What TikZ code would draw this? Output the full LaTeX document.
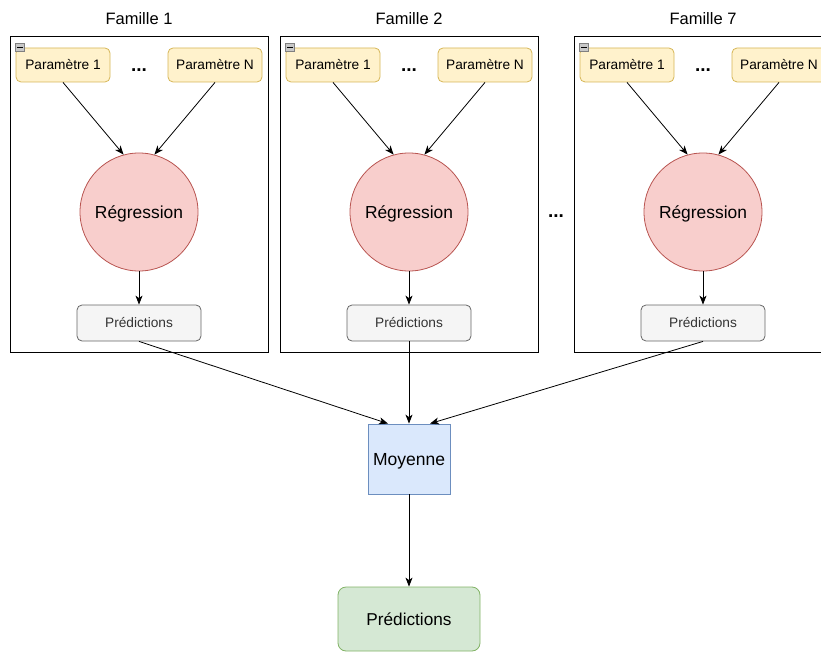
\documentclass[tikz,border=0pt]{standalone}
\usepackage{fontspec}
\setmainfont{Liberation Sans}
\usetikzlibrary{arrows.meta}
\definecolor{paramfill}{HTML}{FFF2CC}
\definecolor{paramline}{HTML}{D6B656}
\definecolor{regfill}{HTML}{F8CECC}
\definecolor{regline}{HTML}{B85450}
\definecolor{predfill}{HTML}{F5F5F5}
\definecolor{predline}{HTML}{666666}
\definecolor{predtext}{HTML}{333333}
\definecolor{moyfill}{HTML}{DAE8FC}
\definecolor{moyline}{HTML}{6C8EBF}
\definecolor{finfill}{HTML}{D5E8D4}
\definecolor{finline}{HTML}{82B366}
\definecolor{iconfill}{HTML}{C8C8C8}
\definecolor{iconline}{HTML}{808080}

\begin{document}
\begin{tikzpicture}[x=1pt, y=-1pt, ->, >={Stealth[length=9pt, width=7pt, inset=2.5pt]}, line width=0.8pt,
    texte/.style={text height=#1, text depth=0pt},
    famille/.style={draw, minimum width=258pt, minimum height=316pt},
    titre/.style={texte=11.8pt, font=\fontsize{16.5}{19}\selectfont},
    param/.style={texte=9.8pt, draw=paramline, fill=paramfill, rounded corners=5pt, minimum width=94pt, minimum height=34pt, inner sep=0pt, font=\fontsize{13.7}{16}\selectfont},
    points/.style={anchor=base, inner sep=0pt, font=\fontsize{19}{22}\selectfont\bfseries},
    icone/.style={draw=iconline, fill=iconfill, line width=0.6pt, minimum width=9pt, minimum height=8pt, inner sep=0pt},
    reg/.style={texte=12.5pt, circle, draw=regline, fill=regfill, minimum size=118pt, inner sep=0pt, font=\fontsize{17.4}{20}\selectfont},
    pred/.style={texte=9.8pt, draw=predline, fill=predfill, text=predtext, rounded corners=5pt, minimum width=124pt, minimum height=36pt, inner sep=0pt, font=\fontsize{13.7}{16}\selectfont},
    moyenne/.style={texte=12.5pt, draw=moyline, fill=moyfill, minimum width=82pt, minimum height=70pt, inner sep=0pt, font=\fontsize{17.5}{20}\selectfont},
    final/.style={texte=12.3pt, draw=finline, fill=finfill, rounded corners=8pt, minimum width=142pt, minimum height=64pt, inner sep=0pt, font=\fontsize{17.2}{20}\selectfont}]
    \path [use as bounding box, clip] (0,0) rectangle (821,652);
    \foreach \i/\x/\t in {1/139/1, 2/409/2, 3/703/7} {
        \node [famille] (fam\i) at (\x,194) {};
        \node [titre] (tit\i) at (\x,19) {Famille \t};
        \node [param] (pa\i) at (\x-76,65) {Paramètre 1};
        \node [param] (pb\i) at (\x+76,65) {Paramètre N};
        \node [points] (pt\i) at (\x,72) {...};
        \node [icone] (ic\i) at (\x-119,47.5) {};
        \draw [-, line width=0.9pt] ([xshift=-2.8pt]ic\i.center) -- ([xshift=2.8pt]ic\i.center);
        \node [reg] (reg\i) at (\x,212) {Régression};
        \node [pred] (pr\i) at (\x,323) {Prédictions};
        \path (pa\i.south) edge (reg\i.105);
        \path (pb\i.south) edge (reg\i.75);
        \path (reg\i) edge (pr\i);
    }
    \node [points] (ptfam) at (556,218) {...};
    \node [moyenne] (moy) at (409,459) {Moyenne};
    \node [final] (fin) at (409,619) {Prédictions};
    \path (pr1.south) edge ([xshift=-21pt]moy.north);
    \path (pr2.south) edge (moy.north);
    \path (pr3.south) edge ([xshift=21pt]moy.north);
    \path (moy) edge (fin);
\end{tikzpicture}
\end{document}
